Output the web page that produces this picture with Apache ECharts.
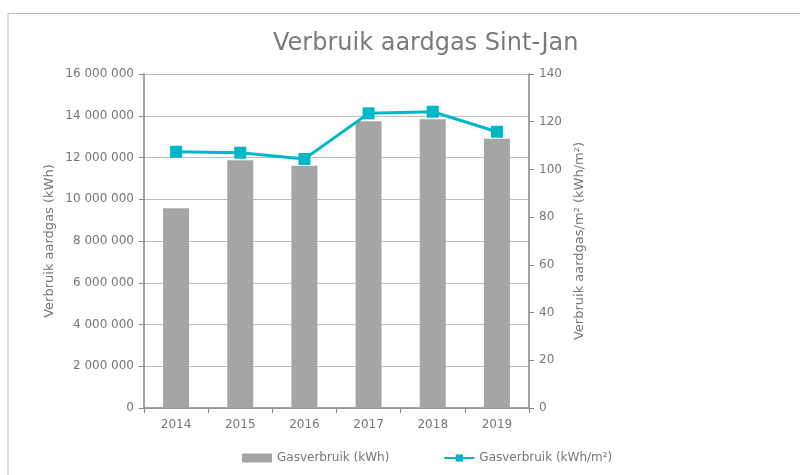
<!DOCTYPE html>
<html>
<head>
<meta charset="utf-8">
<script src="https://cdn.jsdelivr.net/npm/echarts@6/dist/echarts.min.js"></script>
<style>
  html, body { margin: 0; padding: 0; background: #fff; }
  #chart { width: 800px; height: 475px; }
</style>
</head>
<body>
<div id="chart"></div>
<script>
// jaren
const years = ['2014', '2015', '2016', '2017', '2018', '2019']
// totaal verbruik in kWh
const gasKwh = [9570000, 11870000, 11610000, 13740000, 13830000, 12900000]
// verbruik per m2
const gasKwhM2 = [107.4, 107.0, 104.4, 123.5, 124.2, 115.8]

const txt = '#767676'
const axisCol = '#868686'
const font = 'DejaVu Sans'

const chart = echarts.init(document.getElementById('chart'))

// getallen met spatie als duizendtal-scheiding
function fmt(v) {
  return String(v).replace(/\B(?=(\d{3})+(?!\d))/g, ' ')
}

chart.setOption({
  animation: false,
  textStyle: { fontFamily: font },
  graphic: [
    {
      type: 'polyline',
      shape: { points: [[8, 475], [8, 13.5], [800, 13.5]] },
      style: { stroke: '#bfbfbf', lineWidth: 1, fill: null },
      silent: true
    }
  ],
  title: {
    text: 'Verbruik aardgas Sint-Jan',
    left: 268,
    top: 27,
    textStyle: { color: '#7a7a7a', fontSize: 24, fontWeight: 'normal', fontFamily: font }
  },
  legend: {
    bottom: 6,
    left: 237,
    itemGap: 54,
    itemWidth: 30,
    itemHeight: 9,
    textStyle: { color: txt, fontSize: 12, fontFamily: font },
    data: [
      { name: 'Gasverbruik (kWh)', icon: 'rect' },
      { name: 'Gasverbruik (kWh/m²)' }
    ]
  },
  grid: { left: 144, right: 271, top: 74, bottom: 67 },
  xAxis: {
    type: 'category',
    data: years,
    axisLine: { lineStyle: { color: axisCol, width: 1.5 } },
    axisTick: { show: true, length: 5, lineStyle: { color: axisCol } },
    axisLabel: { color: txt, fontSize: 12, margin: 11 }
  },
  yAxis: [
    {
      type: 'value',
      min: 0,
      max: 16000000,
      interval: 2000000,
      name: 'Verbruik aardgas (kWh)',
      nameLocation: 'middle',
      nameGap: 88,
      nameTextStyle: { color: txt, fontSize: 13 },
      axisLine: { show: true, lineStyle: { color: axisCol, width: 1.5 } },
      axisTick: { show: true, length: 5, lineStyle: { color: axisCol } },
      axisLabel: { color: txt, fontSize: 12, margin: 10, formatter: fmt },
      splitLine: { lineStyle: { color: '#bfbfbf' } }
    },
    {
      type: 'value',
      min: 0,
      max: 140,
      interval: 20,
      name: 'Verbruik aardgas/m² (kWh/m²)',
      nameLocation: 'middle',
      nameGap: 44,
      nameRotate: 90,
      nameTextStyle: { color: txt, fontSize: 13 },
      axisLine: { show: true, lineStyle: { color: axisCol, width: 1.5 } },
      axisTick: { show: true, length: 5, lineStyle: { color: axisCol } },
      axisLabel: { color: txt, fontSize: 12, margin: 10 },
      splitLine: { show: false }
    }
  ],
  series: [
    {
      name: 'Gasverbruik (kWh)',
      type: 'bar',
      data: gasKwh,
      barWidth: 26,
      itemStyle: { color: '#a5a5a5' }
    },
    {
      name: 'Gasverbruik (kWh/m²)',
      type: 'line',
      yAxisIndex: 1,
      data: gasKwhM2,
      symbol: 'rect',
      symbolSize: 12,
      lineStyle: { color: '#00b6c7', width: 3 },
      itemStyle: { color: '#00b6c7' }
    }
  ]
})
</script>
</body>
</html>
